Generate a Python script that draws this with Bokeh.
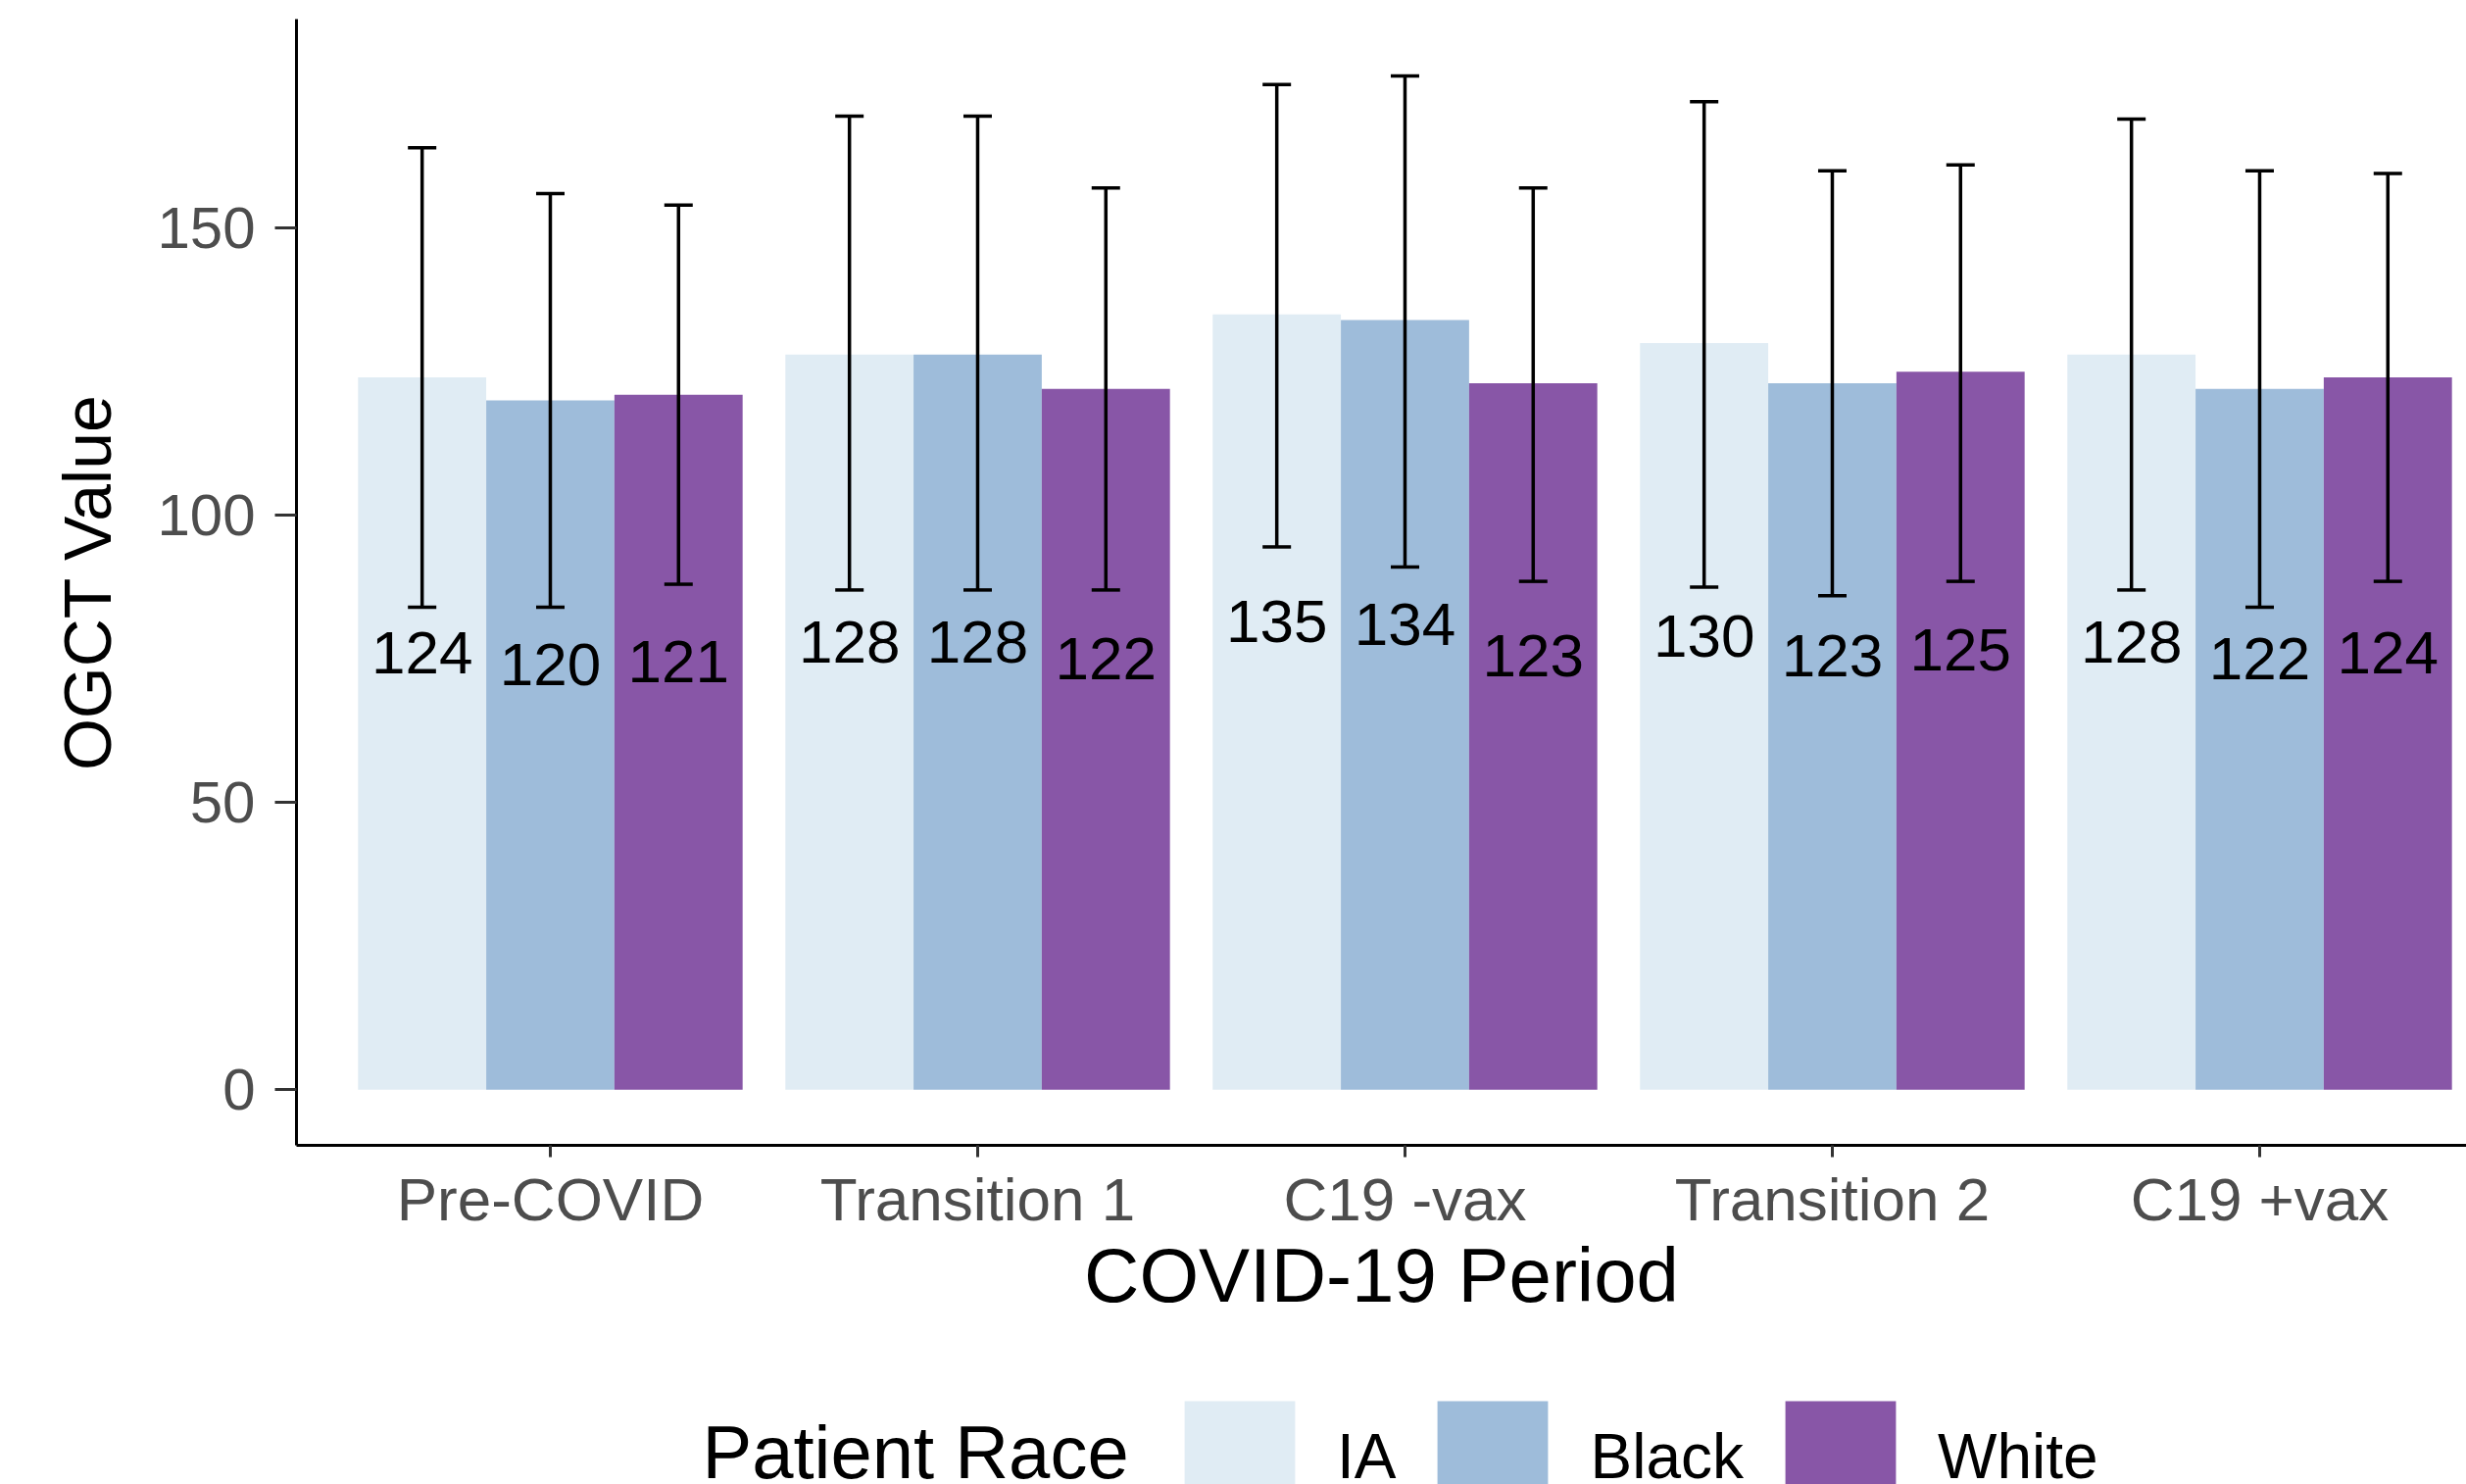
from bokeh.plotting import figure
from bokeh.layouts import column
from bokeh.models import (ColumnDataSource, FixedTicker, Range1d, Whisker, TeeHead,
                          Legend, LegendItem, Label)
from bokeh.core.properties import value
from bokeh.embed import file_html
from bokeh.resources import INLINE

# ---------------- data ----------------
periods = ["Pre-COVID", "Transition 1", "C19 -vax", "Transition 2", "C19 +vax"]
races = ["IA", "Black", "White"]
colors = ["#e0ecf4", "#9ebcda", "#8856a7"]

ia_mean = [124, 128, 135, 130, 128]
black_mean = [120, 128, 134, 123, 122]
white_mean = [121, 122, 123, 125, 124]

ia_lower = [84, 87, 94.5, 87.5, 87]
ia_upper = [164, 169.5, 175, 172, 169]
black_lower = [84, 87, 91, 86, 84]
black_upper = [156, 169.5, 176.5, 160, 160]
white_lower = [88, 87, 88.5, 88.5, 88.5]
white_upper = [154, 157, 157, 161, 159.5]

y_ticks = [0, 50, 100, 150]

means = [ia_mean, black_mean, white_mean]
lowers = [ia_lower, black_lower, white_lower]
uppers = [ia_upper, black_upper, white_upper]
offsets = [-0.3, 0.0, 0.3]
FONT = "Liberation Sans"

W = 2516
H1 = 1390
H2 = 124

p = figure(width=W, height=H1,
           x_range=Range1d(0.406, 5.484), y_range=Range1d(-9.7, 186.4),
           output_backend="svg", toolbar_location=None,
           min_border_left=302, min_border_right=0,
           min_border_top=19, min_border_bottom=222)

p.background_fill_color = "white"
p.border_fill_color = "white"
p.outline_line_color = None
p.xgrid.visible = False
p.ygrid.visible = False

for race, col, m, lo, up, off in zip(races, colors, means, lowers, uppers, offsets):
    src = ColumnDataSource(dict(
        x=[i + 1 + off for i in range(len(periods))],
        top=m,
        lower=lo,
        upper=up,
        half=[v / 2 for v in m],
        label=[str(v) for v in m],
    ))
    p.vbar(x="x", top="top", bottom=0, width=0.3, source=src,
           fill_color=col, line_color=None)
    w = Whisker(base="x", lower="lower", upper="upper", source=src, level="overlay",
                line_color="black", line_width=3.5,
                upper_head=TeeHead(size=29, line_width=3.5, line_color="black"),
                lower_head=TeeHead(size=29, line_width=3.5, line_color="black"))
    p.add_layout(w)
    p.text(x="x", y="half", text="label", source=src, text_align="center",
           text_baseline="middle", y_offset=-82, text_font=value(FONT),
           text_font_size="62px", text_color="black")

# ---------------- axes ----------------
for ax in (p.xaxis, p.yaxis):
    ax.axis_line_color = "black"
    ax.axis_line_width = 3
    ax.major_tick_line_color = "#333333"
    ax.major_tick_line_width = 3
    ax.major_tick_in = 0
    ax.minor_tick_line_color = None
    ax.major_label_text_font = FONT
    ax.major_label_text_color = "#4d4d4d"
    ax.axis_label_text_font = FONT
    ax.axis_label_text_font_style = "normal"
    ax.axis_label_text_color = "black"

p.yaxis.ticker = FixedTicker(ticks=y_ticks)
p.yaxis.major_tick_out = 22
p.yaxis.major_label_text_font_size = "60px"
p.yaxis.major_label_standoff = 20
p.yaxis.axis_label = "OGCT Value"
p.yaxis.axis_label_text_font_size = "68px"
p.yaxis.axis_label_standoff = 30

p.xaxis.ticker = FixedTicker(ticks=[i + 1 for i in range(len(periods))])
p.xaxis.major_label_overrides = {i + 1: name for i, name in enumerate(periods)}
p.xaxis.major_tick_out = 12
p.xaxis.major_label_text_font_size = "62px"
p.xaxis.major_label_standoff = 8
p.xaxis.axis_label = "COVID-19 Period"
p.xaxis.axis_label_text_font_size = "78px"
p.xaxis.axis_label_standoff = -4

# ---------------- legend strip ----------------
p2 = figure(width=W, height=H2, x_range=Range1d(0, 1), y_range=Range1d(0, 1),
            output_backend="svg", toolbar_location=None,
            min_border_left=0, min_border_right=0, min_border_top=0, min_border_bottom=0,
            x_axis_location=None, y_axis_location=None)
p2.outline_line_color = None
p2.xgrid.visible = False
p2.ygrid.visible = False
p2.background_fill_color = "white"
p2.border_fill_color = "white"

legend_items = []
for race, col in zip(races, colors):
    # hidden swatch renderer; only its legend entry is drawn
    r = p2.vbar(x=[-5], top=[1], width=0.1, fill_color=col, line_color=None)
    r.visible = False
    legend_items.append(LegendItem(label=race, renderers=[r]))

legend = Legend(items=legend_items, orientation="horizontal", location=(892, -42),
                glyph_width=141, glyph_height=141, label_standoff=29, spacing=28,
                padding=0, margin=0, border_line_color=None, background_fill_alpha=0,
                click_policy="none",
                label_text_font=FONT, label_text_font_size="64px", label_text_color="black")
p2.add_layout(legend)

p2.add_layout(Label(x=414, y=33, x_units="screen", y_units="screen", text="Patient Race",
                    text_font=FONT, text_font_size="76px", text_baseline="middle",
                    text_color="black"))

open("out.html", "w").write(file_html(column(p, p2, spacing=0), INLINE))
